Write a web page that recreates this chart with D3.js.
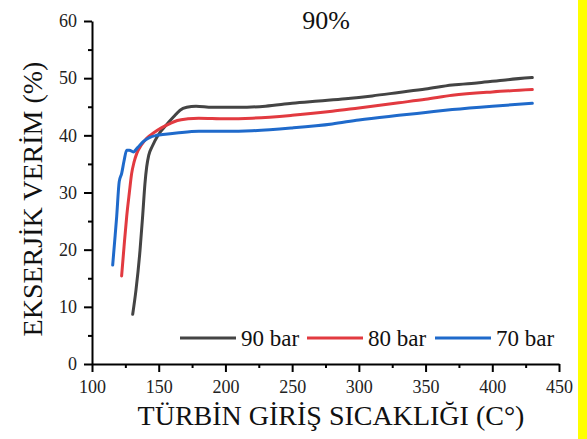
<!DOCTYPE html>
<html>
<head>
<meta charset="utf-8">
<script src="https://cdn.jsdelivr.net/npm/d3@7"></script>
<style>
  html, body { margin: 0; padding: 0; background: #fff; }
</style>
</head>
<body>
<svg id="chart" width="587" height="439" font-family="Liberation Serif"></svg>
<script>

// temperatures (C) and exergy efficiency (%)
var t90 = [130.5, 133, 136, 138, 139.7, 141, 142.5, 145, 150, 156, 161, 166, 171, 178, 190, 210, 230, 250, 270, 290, 310, 330, 350, 370, 390, 410, 430];
var v90 = [8.7, 13, 19.9, 26, 31.6, 34.5, 36.5, 38.0, 40.2, 41.9, 43.2, 44.4, 44.9, 45.1, 44.9, 44.9, 45.1, 45.6, 46.0, 46.4, 46.9, 47.5, 48.1, 48.8, 49.2, 49.7, 50.1];

var t80 = [122.2, 124, 126, 128, 129.7, 131.5, 133.5, 137, 141, 146, 152, 158, 164, 172, 180, 200, 220, 250, 280, 300, 330, 350, 370, 400, 430];
var v80 = [15.4, 20.5, 25.8, 30, 33.3, 35.3, 36.8, 38.3, 39.5, 40.4, 41.3, 42.0, 42.6, 42.9, 43.0, 42.9, 43.0, 43.5, 44.2, 44.8, 45.7, 46.3, 47.0, 47.6, 48.0];

var t70 = [115.5, 117, 118.5, 120.4, 122.2, 124, 126, 128, 131, 134, 138.4, 143, 148.4, 155, 163.4, 180, 200, 220, 250, 280, 300, 330, 350, 370, 400, 430];
var v70 = [17.3, 21.5, 25.8, 31.9, 33.3, 35.5, 37.4, 37.4, 37.1, 37.8, 38.9, 39.6, 40.0, 40.2, 40.4, 40.7, 40.7, 40.8, 41.3, 42.0, 42.7, 43.5, 44.0, 44.5, 45.1, 45.6];

var seriesNames = ["90 bar", "80 bar", "70 bar"];
var xTicks = [100, 150, 200, 250, 300, 350, 400, 450];
var xMinor = [125, 175, 225, 275, 325, 375, 425];
var yTicks = [0, 10, 20, 30, 40, 50, 60];
var yMinor = [5, 15, 25, 35, 45, 55];

var colors = ["#444444", "#e23a40", "#1f6acb"];
var FONT = "Liberation Serif";
var series = [
  { name: seriesNames[0], t: t90, v: v90 },
  { name: seriesNames[1], t: t80, v: v80 },
  { name: seriesNames[2], t: t70, v: v70 }
];

var svg = d3.select("#chart");

// yellow strip on the right edge
svg.append("rect")
  .attr("x", 578).attr("y", 0)
  .attr("width", 9).attr("height", 439)
  .attr("fill", "#ffff00");

var x = d3.scaleLinear().domain([100, 450]).range([92, 559]);
var y = d3.scaleLinear().domain([0, 60]).range([364, 21]);

// minor ticks first
svg.append("g")
  .attr("transform", "translate(0,364)")
  .call(d3.axisBottom(x).tickValues(xMinor).tickFormat("").tickSize(4).tickSizeOuter(0))
  .call(function(g) { g.select(".domain").remove(); })
  .selectAll("line").attr("stroke-width", 2);

svg.append("g")
  .attr("transform", "translate(92,0)")
  .call(d3.axisLeft(y).tickValues(yMinor).tickFormat("").tickSize(4).tickSizeOuter(0))
  .call(function(g) { g.select(".domain").remove(); })
  .selectAll("line").attr("stroke-width", 2);

var xAxis = svg.append("g")
  .attr("transform", "translate(0,364)")
  .call(d3.axisBottom(x).tickValues(xTicks).tickSize(8).tickSizeOuter(0).tickPadding(8));

var yAxis = svg.append("g")
  .attr("transform", "translate(92,0)")
  .call(d3.axisLeft(y).tickValues(yTicks).tickSize(8).tickSizeOuter(0).tickPadding(7));

[xAxis, yAxis].forEach(function(a) {
  a.attr("font-family", FONT).attr("font-size", 18);
  a.select(".domain").attr("stroke-width", 2);
  a.selectAll(".tick line").attr("stroke-width", 2);
  a.selectAll(".tick text").attr("fill", "#222");
});

// curves
var line = d3.line()
  .x(function(d) { return x(d[0]); })
  .y(function(d) { return y(d[1]); })
  .curve(d3.curveMonotoneX);

series.forEach(function(s, i) {
  var pts = s.t.map(function(t, j) { return [t, s.v[j]]; });
  svg.append("path")
    .datum(pts)
    .attr("fill", "none")
    .attr("stroke", colors[i])
    .attr("stroke-width", 3)
    .attr("stroke-linejoin", "round")
    .attr("stroke-linecap", "round")
    .attr("d", line);
});

// legend
var legendX = [180, 307, 435];
var legend = svg.append("g");
series.forEach(function(s, i) {
  legend.append("line")
    .attr("x1", legendX[i]).attr("x2", legendX[i] + 56)
    .attr("y1", 338).attr("y2", 338)
    .attr("stroke", colors[i])
    .attr("stroke-width", 3);
  legend.append("text")
    .attr("x", legendX[i] + 61).attr("y", 346)
    .attr("font-family", FONT)
    .attr("font-size", 23)
    .attr("fill", "#111")
    .text(s.name);
});

// title
svg.append("text")
  .attr("x", 326).attr("y", 29)
  .attr("text-anchor", "middle")
  .attr("font-family", FONT)
  .attr("font-size", 26)
  .attr("fill", "#111")
  .text("90%");

// axis titles
svg.append("text")
  .attr("x", 331).attr("y", 425)
  .attr("text-anchor", "middle")
  .attr("font-family", FONT)
  .attr("font-size", 28)
  .attr("fill", "#111")
  .text("TÜRBİN GİRİŞ SICAKLIĞI (C°)");

svg.append("text")
  .attr("transform", "translate(42,199) rotate(-90)")
  .attr("text-anchor", "middle")
  .attr("font-family", FONT)
  .attr("font-size", 28)
  .attr("fill", "#111")
  .text("EKSERJİK VERİM (%)");

</script>
</body>
</html>
